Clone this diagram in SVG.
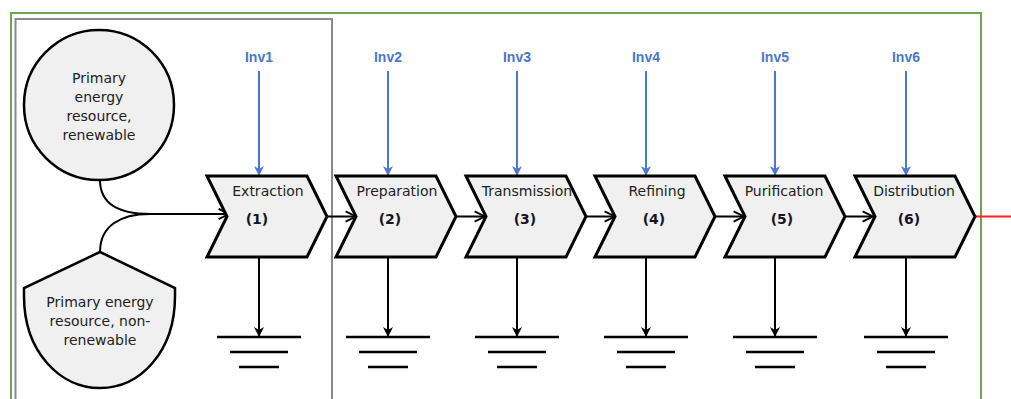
<svg xmlns="http://www.w3.org/2000/svg" width="1011" height="399" viewBox="0 0 1011 399">
  <style>
    .lbl { font-family: "DejaVu Sans", Verdana, sans-serif; font-size: 14px; fill: #222; text-anchor: middle; }
    .num { font-family: "DejaVu Sans", Verdana, sans-serif; font-size: 14px; font-weight: bold; fill: #151525; text-anchor: middle; }
    .inv { font-family: "Liberation Sans", Arial, sans-serif; font-size: 14px; font-weight: bold; fill: #4a78c8; text-anchor: middle; }
    .chev { fill: #f0f0f0; stroke: #000; stroke-width: 3; stroke-linejoin: miter; }
    .src { fill: #f0f0f0; stroke: #000; stroke-width: 2.5; }
    .blue { stroke: #4a78d0; stroke-width: 2; fill: none; }
    .blk { stroke: #000; stroke-width: 2; fill: none; }
    .gnd { stroke: #000; stroke-width: 2.5; }
  </style>
  <defs>
    <marker id="ab" viewBox="0 0 10 10" refX="9" refY="5" markerWidth="5" markerHeight="5" orient="auto" markerUnits="strokeWidth">
      <path d="M0,0 L10,5 L0,10 L3,5 Z" fill="#4a78d0"/>
    </marker>
    <marker id="ak" viewBox="0 0 10 10" refX="9" refY="5" markerWidth="5" markerHeight="5" orient="auto" markerUnits="strokeWidth">
      <path d="M0,0 L10,5 L0,10 L3,5 Z" fill="#000"/>
    </marker>
    <marker id="ao" viewBox="0 0 10 10" refX="9" refY="5" markerWidth="6.5" markerHeight="6.5" orient="auto" markerUnits="strokeWidth">
      <path d="M1,1 L9,5 L1,9" fill="none" stroke="#000" stroke-width="1.5"/>
    </marker>
  </defs>
  <rect x="0" y="0" width="1011" height="399" fill="#fff"/>
  <g id="frame-green"><rect x="11" y="13" width="970" height="400" fill="none" stroke="#74a053" stroke-width="2"/></g>
  <g id="frame-gray"><rect x="15.5" y="19" width="316.5" height="400" fill="none" stroke="#8a8a8a" stroke-width="2"/></g>

  <g id="connectors">
    <path class="blk" d="M100,180 C100,205 120,214 150,214 L229,214" marker-end="url(#ao)"/>
    <path class="blk" d="M100,252 C100,226 120,214 150,214"/>
    <path class="blk" d="M327,216.5 L356,216.5" marker-end="url(#ao)"/>
    <path class="blk" d="M456,216.5 L485,216.5" marker-end="url(#ao)"/>
    <path class="blk" d="M586,216.5 L615,216.5" marker-end="url(#ao)"/>
    <path class="blk" d="M715,216.5 L744,216.5" marker-end="url(#ao)"/>
    <path class="blk" d="M845,216.5 L873,216.5" marker-end="url(#ao)"/>
    <path d="M975,216.5 L1011,216.5" stroke="#ff2020" stroke-width="2"/>
    <path class="blue" d="M259,71 L259,175" marker-end="url(#ab)"/>
    <path class="blue" d="M388,71 L388,175" marker-end="url(#ab)"/>
    <path class="blue" d="M517,71 L517,175" marker-end="url(#ab)"/>
    <path class="blue" d="M646,71 L646,175" marker-end="url(#ab)"/>
    <path class="blue" d="M775,71 L775,175" marker-end="url(#ab)"/>
    <path class="blue" d="M906,71 L906,175" marker-end="url(#ab)"/>
    <path class="blk" d="M259,258 L259,336" marker-end="url(#ak)"/>
    <path class="blk" d="M388,258 L388,336" marker-end="url(#ak)"/>
    <path class="blk" d="M517,258 L517,336" marker-end="url(#ak)"/>
    <path class="blk" d="M646,258 L646,336" marker-end="url(#ak)"/>
    <path class="blk" d="M775,258 L775,336" marker-end="url(#ak)"/>
    <path class="blk" d="M906,258 L906,336" marker-end="url(#ak)"/>
  </g>

  <g id="src-renewable">
    <circle class="src" cx="99" cy="105" r="75"/>
    <text class="lbl" x="99" y="83">Primary</text>
    <text class="lbl" x="99" y="102">energy</text>
    <text class="lbl" x="99" y="121">resource,</text>
    <text class="lbl" x="99" y="140">renewable</text>
  </g>
  <g id="src-nonrenewable">
    <path class="src" d="M100,252 L175,288 L175,296 C175,352 140,388 100,388 C60,388 24,352 24,296 L24,288 Z"/>
    <text class="lbl" x="100" y="307">Primary energy</text>
    <text class="lbl" x="100" y="326">resource, non-</text>
    <text class="lbl" x="100" y="345">renewable</text>
  </g>

  <g id="inv-labels">
    <text class="inv" x="259" y="62">Inv1</text>
    <text class="inv" x="388" y="62">Inv2</text>
    <text class="inv" x="517" y="62">Inv3</text>
    <text class="inv" x="646" y="62">Inv4</text>
    <text class="inv" x="775" y="62">Inv5</text>
    <text class="inv" x="906" y="62">Inv6</text>
  </g>

  <g id="step1">
    <path class="chev" d="M207,176 L307,176 L327,216.5 L307,257 L207,257 L227,216.5 Z"/>
    <text class="lbl" x="268" y="196">Extraction</text>
    <text class="num" x="257" y="224">(1)</text>
  </g>
  <g id="step2">
    <path class="chev" d="M336,176 L436,176 L456,216.5 L436,257 L336,257 L356,216.5 Z"/>
    <text class="lbl" x="397" y="196">Preparation</text>
    <text class="num" x="390" y="224">(2)</text>
  </g>
  <g id="step3">
    <path class="chev" d="M466,176 L566,176 L586,216.5 L566,257 L466,257 L486,216.5 Z"/>
    <text class="lbl" x="527" y="196">Transmission</text>
    <text class="num" x="525" y="224">(3)</text>
  </g>
  <g id="step4">
    <path class="chev" d="M595,176 L695,176 L715,216.5 L695,257 L595,257 L615,216.5 Z"/>
    <text class="lbl" x="657" y="196">Refining</text>
    <text class="num" x="654" y="224">(4)</text>
  </g>
  <g id="step5">
    <path class="chev" d="M725,176 L825,176 L845,216.5 L825,257 L725,257 L745,216.5 Z"/>
    <text class="lbl" x="784" y="196">Purification</text>
    <text class="num" x="782" y="224">(5)</text>
  </g>
  <g id="step6">
    <path class="chev" d="M855,176 L955,176 L975,216.5 L955,257 L855,257 L875,216.5 Z"/>
    <text class="lbl" x="914" y="196">Distribution</text>
    <text class="num" x="909" y="224">(6)</text>
  </g>

  <g id="grounds">
    <g id="ground1"><line class="gnd" x1="217" y1="337" x2="301" y2="337"/><line class="gnd" x1="230" y1="352" x2="288" y2="352"/><line class="gnd" x1="239" y1="367" x2="279" y2="367"/></g>
    <g id="ground2"><line class="gnd" x1="346" y1="337" x2="430" y2="337"/><line class="gnd" x1="359" y1="352" x2="417" y2="352"/><line class="gnd" x1="368" y1="367" x2="408" y2="367"/></g>
    <g id="ground3"><line class="gnd" x1="475" y1="337" x2="559" y2="337"/><line class="gnd" x1="488" y1="352" x2="546" y2="352"/><line class="gnd" x1="497" y1="367" x2="537" y2="367"/></g>
    <g id="ground4"><line class="gnd" x1="604" y1="337" x2="688" y2="337"/><line class="gnd" x1="617" y1="352" x2="675" y2="352"/><line class="gnd" x1="626" y1="367" x2="666" y2="367"/></g>
    <g id="ground5"><line class="gnd" x1="733" y1="337" x2="817" y2="337"/><line class="gnd" x1="746" y1="352" x2="804" y2="352"/><line class="gnd" x1="755" y1="367" x2="795" y2="367"/></g>
    <g id="ground6"><line class="gnd" x1="864" y1="337" x2="948" y2="337"/><line class="gnd" x1="877" y1="352" x2="935" y2="352"/><line class="gnd" x1="886" y1="367" x2="926" y2="367"/></g>
  </g>
</svg>
